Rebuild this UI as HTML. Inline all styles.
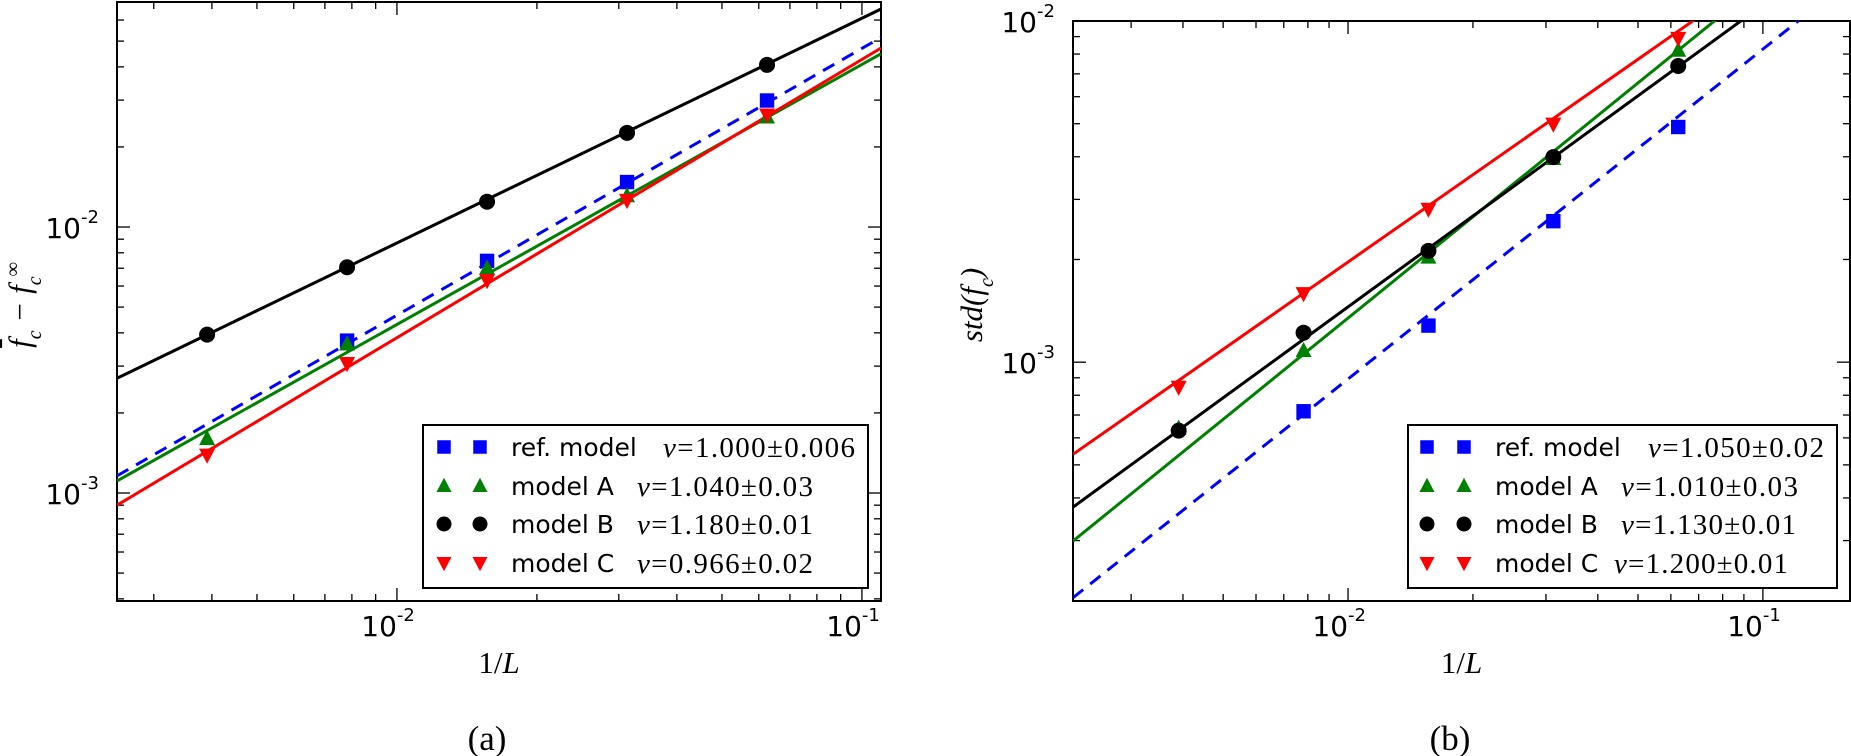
<!DOCTYPE html>
<html><head><meta charset="utf-8">
<style>
html,body{margin:0;padding:0;background:#fff;}
svg{display:block;}
text{font-family:"DejaVu Sans","Liberation Sans",sans-serif;}
.serif{font-family:"Liberation Serif","DejaVu Serif",serif;}
</style></head>
<body>
<svg id="fig" width="1851" height="756" viewBox="0 0 1851 756" xmlns="http://www.w3.org/2000/svg">
<defs>
<clipPath id="clipA"><rect x="117" y="2" width="764" height="599"/></clipPath>
<clipPath id="clipB"><rect x="1073" y="21" width="777" height="580"/></clipPath>
</defs>
<g id="panelA"></g>
<g id="panelB"></g>
</svg>
<script>
// shared x categories (1/L)
const xValues = [1/256, 1/128, 1/64, 1/32, 1/16];
// panel (a) values
const aRef = [null, 0.00374, 0.00746, 0.01476, 0.0299];
const aA = [0.0016, 0.00363, 0.0070, 0.0131, 0.0259];
const aB = [0.00394, 0.00706, 0.01245, 0.0226, 0.0407];
const aC = [0.00139, 0.00307, 0.0063, 0.0126, 0.0264];
// fitted lines (a): values at x-domain left and right edges
const aFitRef = [0.00116, 0.0516];
const aFitA = [0.00111, 0.0448];
const aFitB = [0.0027, 0.066];
const aFitC = [0.0009, 0.0471];
// panel (b) values
const bRef = [null, 0.000718, 0.00128, 0.00259, 0.00489];
const bA = [0.00064, 0.00108, 0.00203, 0.00395, 0.0082];
const bB = [0.00063, 0.00122, 0.00212, 0.00399, 0.00738];
const bC = [0.000845, 0.00159, 0.00281, 0.00499, 0.0089];
const bFitRef = [0.000204, 0.0132];
const bFitA = [0.000299, 0.021];
const bFitB = [0.000376, 0.0171];
const bFitC = [0.000537, 0.021];
// legend labels
const seriesNames = ["ref. model", "model A", "model B", "model C"];
const aNu = ["ν=1.000±0.006", "ν=1.040±0.03", "ν=1.180±0.01", "ν=0.966±0.02"];
const bNu = ["ν=1.050±0.02", "ν=1.010±0.03", "ν=1.130±0.01", "ν=1.200±0.01"];
const xTickLabels = ["-2", "-1"];
const aYTickLabels = ["-3", "-2"];
const bYTickLabels = ["-3", "-2"];

const NS = "http://www.w3.org/2000/svg";
function mk(parent, tag, attrs){const e=document.createElementNS(NS,tag);for(const k in attrs)e.setAttribute(k,attrs[k]);parent.appendChild(e);return e;}

const colors = ["#0000ff", "#008000", "#000000", "#ff0000"];
const shapes = ["square", "tri-up", "circle", "tri-down"];

function marker(g, shape, x, y, color, s){
  let e;
  if(shape==="square"){ e=mk(g,"rect",{x:x-s*0.9,y:y-s*0.9,width:s*1.8,height:s*1.8,fill:color}); }
  else if(shape==="circle"){ e=mk(g,"circle",{cx:x,cy:y,r:s,fill:color}); }
  else if(shape==="tri-up"){ e=mk(g,"polygon",{points:`${x},${y-s*1.1} ${x-s},${y+s*0.8} ${x+s},${y+s*0.8}`,fill:color}); }
  else { e=mk(g,"polygon",{points:`${x},${y+s*1.1} ${x-s},${y-s*0.8} ${x+s},${y-s*0.8}`,fill:color}); }
  return e;
}

function panel(cfg){
  const g = document.getElementById(cfg.id);
  const L=cfg.left,R=cfg.right,T=cfg.top,B=cfg.bottom;
  const lx0=Math.log10(cfg.xmin),lx1=Math.log10(cfg.xmax),ly0=Math.log10(cfg.ymin),ly1=Math.log10(cfg.ymax);
  const sx=v=>L+(Math.log10(v)-lx0)/(lx1-lx0)*(R-L);
  const sy=v=>B-(Math.log10(v)-ly0)/(ly1-ly0)*(B-T);
  const fr=mk(g,"rect",{x:L,y:T,width:R-L,height:B-T,fill:"none",stroke:"#000","stroke-width":2});
  
  
  const tg=mk(g,"g",{stroke:"#000","stroke-width":1.3});
  
  
  for(let d=-4;d<=0;d++){for(let m=1;m<=9;m++){
    const v=m*Math.pow(10,d); const len=m===1?13:7;
    if(v>=cfg.xmin*0.999&&v<=cfg.xmax*1.001){const x=sx(v);mk(tg,"line",{x1:x,y1:B,x2:x,y2:B-len});mk(tg,"line",{x1:x,y1:T,x2:x,y2:T+len});}
    if(v>=cfg.ymin*0.999&&v<=cfg.ymax*1.001){const y=sy(v);mk(tg,"line",{x1:L,y1:y,x2:L+len,y2:y});mk(tg,"line",{x1:R,y1:y,x2:R-len,y2:y});}
  }}
  cfg.xTicks.forEach((lab,i)=>{
    const x=sx(Math.pow(10,parseInt(lab)));
    const t=mk(g,"text",{x:x,y:B+35,"font-size":28,"text-anchor":"end"});t.textContent="10";
    
    
    const s=mk(g,"text",{x:x,y:B+20,"font-size":18});s.textContent=lab;
    
    
  });
  cfg.yTicks.forEach(lab=>{
    const y=sy(Math.pow(10,parseInt(lab)));
    const t=mk(g,"text",{x:L-36,y:y+11,"font-size":28,"text-anchor":"end"});t.textContent="10";
    
    
    const s=mk(g,"text",{x:L-36,y:y-4,"font-size":18});s.textContent=lab;
    
    
  });
  const dg=mk(g,"g",{"clip-path":`url(#${cfg.clip})`});
  
  
  cfg.fits.forEach((f,i)=>{
    const ln=mk(dg,"line",{x1:sx(cfg.xmin),y1:sy(f[0]),x2:sx(cfg.xmax),y2:sy(f[1]),stroke:colors[i],"stroke-width":3});
    if(i===0) ln.setAttribute("stroke-dasharray","13,9");
    
    
  });
  cfg.series.forEach((arr,i)=>{
    arr.forEach((v,j)=>{
      if(v==null) return;
      const m=marker(dg,shapes[i],sx(xValues[j]),sy(v),colors[i],8);
      
      
    });
  });
  const lg=mk(g,"g",{});
  
  
  const lb=mk(lg,"rect",{x:cfg.leg.x,y:425,width:cfg.leg.w,height:163,fill:"#fff",stroke:"#000","stroke-width":2});
  
  
  const rows=[447,486,524,563];
  seriesNames.forEach((n,i)=>{
    const e=mk(lg,"g",{});
    
    
    marker(e,shapes[i],cfg.leg.m1,rows[i],colors[i],7.5);
    marker(e,shapes[i],cfg.leg.m2,rows[i],colors[i],7.5);
    const t=mk(e,"text",{x:cfg.leg.tx,y:rows[i]+9,"font-size":25});t.textContent=n;
    const nu=cfg.nu[i];
    const tn=mk(e,"text",{x:cfg.leg.nx[i],y:rows[i]+10,"font-size":29,class:"serif",textLength:cfg.leg.nw[i],lengthAdjust:"spacing"});
    const it=mk(tn,"tspan",{"font-style":"italic"});it.textContent=nu[0];
    const rest=mk(tn,"tspan",{});rest.textContent=nu.slice(1);
  });
  const xl=mk(g,"text",{x:(L+R)/2,y:673,"font-size":31,"text-anchor":"middle",class:"serif"});
  xl.innerHTML='1/<tspan font-style="italic">L</tspan>';
  
  
  const yl=mk(g,"text",{transform:`translate(${cfg.ylx},305) rotate(-90)`,"font-size":31,"text-anchor":"middle",class:"serif","font-style":"italic"});
  yl.innerHTML=cfg.ylab;
  
  
  const cap=mk(g,"text",{x:cfg.capx,y:750,"font-size":35,"text-anchor":"middle",class:"serif"});
  cap.textContent=cfg.cap;
  
  
}

panel({id:"panelA",clip:"clipA",left:117,right:881,top:2,bottom:601,
  xmin:Math.pow(10,-2.602),xmax:Math.pow(10,-0.959),ymin:Math.pow(10,-3.406),ymax:Math.pow(10,-1.154),
  xTicks:xTickLabels,yTicks:aYTickLabels,
  series:[aRef,aA,aB,aC],fits:[aFitRef,aFitA,aFitB,aFitC],nu:aNu,
  leg:{x:423,w:445,m1:444,m2:480,tx:511,nx:[663,637,637,637],nw:[192,176,176,176]},
  ylx:30,ylab:'<tspan text-decoration="overline">f</tspan><tspan baseline-shift="sub" font-size="20">c</tspan> − f<tspan baseline-shift="sub" font-size="20">c</tspan><tspan baseline-shift="super" font-size="20">∞</tspan>',
  capx:487,cap:"(a)"});
panel({id:"panelB",clip:"clipB",left:1073,right:1850,top:21,bottom:601,
  xmin:Math.pow(10,-2.663),xmax:Math.pow(10,-0.79),ymin:Math.pow(10,-3.70),ymax:0.01,
  xTicks:xTickLabels,yTicks:bYTickLabels,
  series:[bRef,bA,bB,bC],fits:[bFitRef,bFitA,bFitB,bFitC],nu:bNu,
  leg:{x:1408,w:429,m1:1427,m2:1464,tx:1495,nx:[1648,1621,1621,1614],nw:[176,177,175,174]},
  ylx:982,ylab:'std(f<tspan baseline-shift="sub" font-size="20">c</tspan>)',
  capx:1450,cap:"(b)"});
</script>
</body></html>
